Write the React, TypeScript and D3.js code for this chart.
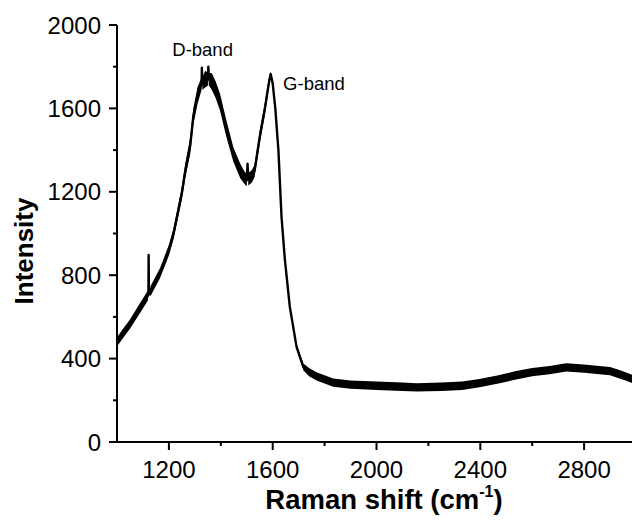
import React from "react";
import * as d3 from "d3";

const ramanShift = [1000,1020,1050,1090,1118,1121,1122,1123,1130,1166,1200,1218,1250,1263,1282,1294,1310,1326,1327,1329,1340,1351,1352,1354,1365,1380,1397,1420,1448,1475,1490,1500,1503,1506,1520,1530,1551,1570,1585,1592,1600,1610,1622,1634,1647,1666,1692,1718,1740,1769,1800,1833,1900,2000,2100,2154,2250,2330,2397,2470,2538,2600,2667,2731,2800,2859,2900,2936,2960,2990];
const intensity = [480,515,565,645,700,705,897,710,725,810,920,1000,1194,1300,1420,1560,1660,1720,1795,1720,1740,1740,1800,1740,1730,1690,1630,1510,1380,1300,1270,1255,1335,1260,1275,1300,1470,1600,1720,1765,1720,1600,1400,1080,873,648,456,360,335,315,300,285,275,270,265,262,265,270,282,300,320,335,345,358,352,345,340,325,315,300];
const noiseSpread = [22,22,22,24,24,5,0,5,24,24,26,26,30,35,40,40,40,30,0,30,40,30,0,30,40,40,40,40,35,35,30,30,0,30,30,30,30,30,25,10,20,15,10,8,8,8,10,16,20,20,20,20,20,20,20,20,20,20,20,20,20,20,20,20,20,20,20,20,20,20];

const xTicks = [1200, 1600, 2000, 2400, 2800];
const xMinorTicks = [1400, 1800, 2200, 2600];
const yTicks = [0, 400, 800, 1200, 1600, 2000];
const yMinorTicks = [200, 600, 1000, 1400, 1800];
const annotations = [
  { text: "D-band", x: 1213, y: 1850 },
  { text: "G-band", x: 1640, y: 1690 },
];

export default function App() {
  const W = 632, H = 521;
  const x = d3.scaleLinear().domain([1000, 3000]).range([117, 636]);
  const y = d3.scaleLinear().domain([0, 2000]).range([442, 25]);
  const pts = ramanShift.map((v, i) => ({ v, I: intensity[i], s: noiseSpread[i] }));
  const line = d3.line<any>().x(d => x(d.v)).y(d => y(d.I));
  const area = d3.area<any>().x(d => x(d.v)).y0(d => y(d.I - d.s)).y1(d => y(d.I + d.s));
  const font = "'Liberation Sans', Arial, sans-serif";
  return (
    <svg width={W} height={H} style={{ position: "absolute", left: 0, top: 0, background: "#fff" }}>
      <defs>
        <clipPath id="plot"><rect x={117} y={0} width={W - 117} height={442} /></clipPath>
      </defs>
      <g clipPath="url(#plot)">
        <path d={area(pts) || ""} fill="#000" />
        <path d={line(pts) || ""} fill="none" stroke="#000" strokeWidth={2.4} strokeLinejoin="round" />
      </g>
      <line x1={117} x2={W} y1={442} y2={442} stroke="#000" strokeWidth={2} />
      <line x1={117} x2={117} y1={y(2000)} y2={443} stroke="#000" strokeWidth={2} />
      {xTicks.map(t => (
        <g key={"xt" + t}>
          <line x1={x(t)} x2={x(t)} y1={442} y2={450} stroke="#000" strokeWidth={2} />
          <text x={x(t)} y={478} textAnchor="middle" fontFamily={font} fontSize={24}>{t}</text>
        </g>
      ))}
      {xMinorTicks.map(t => (
        <line key={"xm" + t} x1={x(t)} x2={x(t)} y1={442} y2={446} stroke="#000" strokeWidth={2} />
      ))}
      {yTicks.map(t => (
        <g key={"yt" + t}>
          <line x1={109} x2={117} y1={y(t)} y2={y(t)} stroke="#000" strokeWidth={2} />
          <text x={101} y={y(t)} dy="0.36em" textAnchor="end" fontFamily={font} fontSize={24}>{t}</text>
        </g>
      ))}
      {yMinorTicks.map(t => (
        <line key={"ym" + t} x1={113} x2={117} y1={y(t)} y2={y(t)} stroke="#000" strokeWidth={2} />
      ))}
      {annotations.map(a => (
        <text key={a.text} x={x(a.x)} y={y(a.y)} fontFamily={font} fontSize={18.5}>{a.text}</text>
      ))}
      <text x={384} y={509} textAnchor="middle" fontFamily={font} fontSize={27.5} fontWeight="bold">
        Raman shift (cm<tspan fontSize={16} dy={-12}>-1</tspan><tspan dy={12}>)</tspan>
      </text>
      <text transform="translate(33,251) rotate(-90)" textAnchor="middle" fontFamily={font} fontSize={26} fontWeight="bold">Intensity</text>
    </svg>
  );
}
